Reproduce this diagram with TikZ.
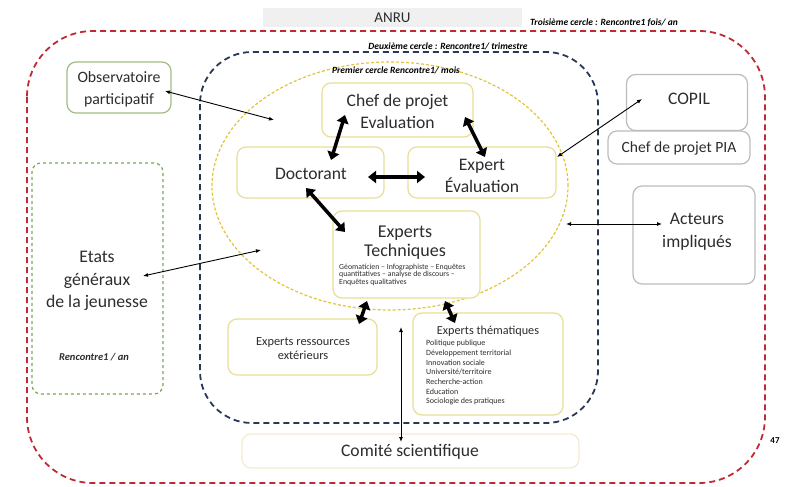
\documentclass[tikz,border=0pt]{standalone}
\usepackage{fontspec}
\setmainfont{Carlito}
\usetikzlibrary{arrows.meta,positioning}

\definecolor{redcircle}{RGB}{192,42,52}
\definecolor{bluecircle}{RGB}{42,56,88}
\definecolor{yellowcircle}{RGB}{226,196,60}
\definecolor{boxyellow}{RGB}{232,222,150}
\definecolor{boxgreen}{RGB}{160,190,130}
\definecolor{dashgreen}{RGB}{120,170,80}
\definecolor{boxgrey}{RGB}{188,188,188}
\definecolor{paleyellow}{RGB}{242,236,206}
\definecolor{textgrey}{RGB}{45,45,45}

\tikzset{
  box/.style={draw=boxyellow, line width=1.2pt, rounded corners=9pt, fill=white,
    inner sep=0pt},
  greybox/.style={box, draw=boxgrey},
  label/.style={text=textgrey, align=center, inner sep=1pt},
  circlelabel/.style={font=\bfseries\itshape\fontsize{9.5}{10}\selectfont, inner sep=0pt},
  bigarrow/.style={{Triangle[length=8pt,width=12pt]}-{Triangle[length=8pt,width=12pt]},
    line width=3.5pt},
  thinarrow/.style={{Latex[length=5pt,width=4pt]}-{Latex[length=5pt,width=4pt]},
    line width=0.9pt}
}

\newcommand{\fs}[1]{\fontsize{#1}{#1}\selectfont}

\begin{document}
\begin{tikzpicture}[x=1pt,y=-1pt]
  \useasboundingbox (0,0) rectangle (795,487);
  % ANRU banner
  \node[fill=black!6, minimum width=259pt, minimum height=19pt, inner sep=0pt,
    label, font=\fs{15}] (anru) at (392.5,17.5) {ANRU};
  % third circle
  \draw[redcircle, line width=1.8pt, dash pattern=on 6pt off 4pt, rounded corners=66pt]
    (27,31) rectangle (765,483);
  \node[circlelabel] (troisieme) at (604,23) {Troisième cercle : Rencontre1 fois/ an};
  % second circle
  \draw[bluecircle, line width=1.8pt, dash pattern=on 6pt off 4pt, rounded corners=52pt]
    (200,52) rectangle (598,423);
  \node[circlelabel] (deuxieme) at (448,46) {Deuxième cercle : Rencontre1/ trimestre};
  % first circle
  \draw[yellowcircle, line width=1.2pt, dash pattern=on 3pt off 2pt]
    (390,186) ellipse [x radius=178pt, y radius=124pt];
  \node[circlelabel] (premier) at (396,70) {Premier cercle Rencontre1/ mois};

  % boxes of the first circle
  \node[box, minimum width=151pt, minimum height=54pt] (chef) at (397.5,110) {};
  \node[label, font=\fs{17.6}] at (397.5,111.5) {Chef de projet\\[5pt]Evaluation};
  \node[box, minimum width=147pt, minimum height=51pt] (doct) at (310.5,172.5) {};
  \node[label, font=\fs{17.6}] at (311,174) {Doctorant};
  \node[box, minimum width=148pt, minimum height=51pt] (expeval) at (482,172.5) {};
  \node[label, font=\fs{17.6}] at (482,176) {Expert\\[4.5pt]Évaluation};
  \node[box, minimum width=147pt, minimum height=87pt] (exptech) at (406.5,254.5) {};
  \node[label, font=\fs{18}] (exptechtitle) at (405,242.5)
    {Experts\\[1pt]Techniques};
  \node[label, anchor=north west, align=left, font=\fs{7.8}, inner sep=0pt]
    (exptechlist) at (339,263.5)
    {Géomaticien – Infographiste – Enquêtes\\[-0.3pt]quantitatives – analyse de discours –\\[-0.3pt]Enquêtes qualitatives};

  % boxes of the second circle
  \node[box, minimum width=149pt, minimum height=56pt] (expres) at (302.5,347) {};
  \node[label, font=\fs{12.4}] at (303,348.5) {Experts ressources\\[1.5pt]extérieurs};
  \node[box, minimum width=150pt, minimum height=102pt] (expthem) at (488,364) {};
  \node[label, font=\fs{12.2}] (expthemtitle) at (488,331) {Experts thématiques};
  \foreach \txt [count=\k] in {Politique publique, Développement territorial,
      Innovation sociale, Université/territoire, Recherche-action, Education,
      Sociologie des pratiques}{%
    \node[label, anchor=west, font=\fs{8}, inner sep=0pt] at (426,{333.5+9.7*\k}) {\txt};
  }

  % boxes of the third circle
  \node[box, draw=paleyellow, minimum width=337pt, minimum height=34pt] (comite) at (410.5,451) {};
  \node[label, font=\fs{17.6}] at (410,452) {Comité scientifique};
  \node[box, draw=boxgreen, minimum width=104pt, minimum height=51pt] (obs) at (119,87.5) {};
  \node[label, font=\fs{15.8}] at (119,89) {Observatoire\\[6pt]participatif};
  \node[box, draw=dashgreen, dashed, minimum width=131pt, minimum height=231pt] (etats) at (97.5,278.5) {};
  \node[label, font=\fs{17.7}] at (97,281) {Etats\\[5pt]généraux\\[5pt]de la jeunesse};
  \node[circlelabel, text=textgrey, font=\bfseries\itshape\fs{10.5}] (rencontre) at (94,357) {Rencontre1 / an};
  \node[greybox, minimum width=121pt, minimum height=56pt] (copil) at (687,102.5) {};
  \node[label, font=\fs{17.6}] at (689,99) {COPIL};
  \node[greybox, minimum width=142pt, minimum height=33pt] (pia) at (679,147.5) {};
  \node[label, font=\fs{15.6}] at (679,148.5) {Chef de projet PIA};
  \node[greybox, minimum width=122pt, minimum height=98pt] (acteurs) at (694,235) {};
  \node[label, font=\fs{17.6}] at (697,232) {Acteurs\\[5.5pt]impliqués};
  \node[font=\bfseries\fs{9}, inner sep=0pt] (page) at (775,441) {47};

  % free ends of the thin arrows
  \coordinate (obsend) at (274,120);
  \coordinate (etatsend) at (261,250);
  \coordinate (acteursend) at (566,224);
  \coordinate (comiteend) at (401,327);

  % thick arrows
  \draw[bigarrow] (345,115) -- (331,160);
  \draw[bigarrow] (465,117) -- (485,157);
  \draw[bigarrow] (368,177) -- (425,177);
  \draw[bigarrow] (306,188) -- (345,232);
  \draw[bigarrow] (367,301) -- (359,324);
  \draw[bigarrow] (445,301) -- (455,323);

  % thin arrows
  \draw[thinarrow] (165,91) -- (obsend);
  \draw[thinarrow] (143,276) -- (etatsend);
  \draw[thinarrow] (642,99) -- (557,157);
  \draw[thinarrow] (acteursend) -- (662,224);
  \draw[thinarrow] (comiteend) -- (401,442);
\end{tikzpicture}
\end{document}
